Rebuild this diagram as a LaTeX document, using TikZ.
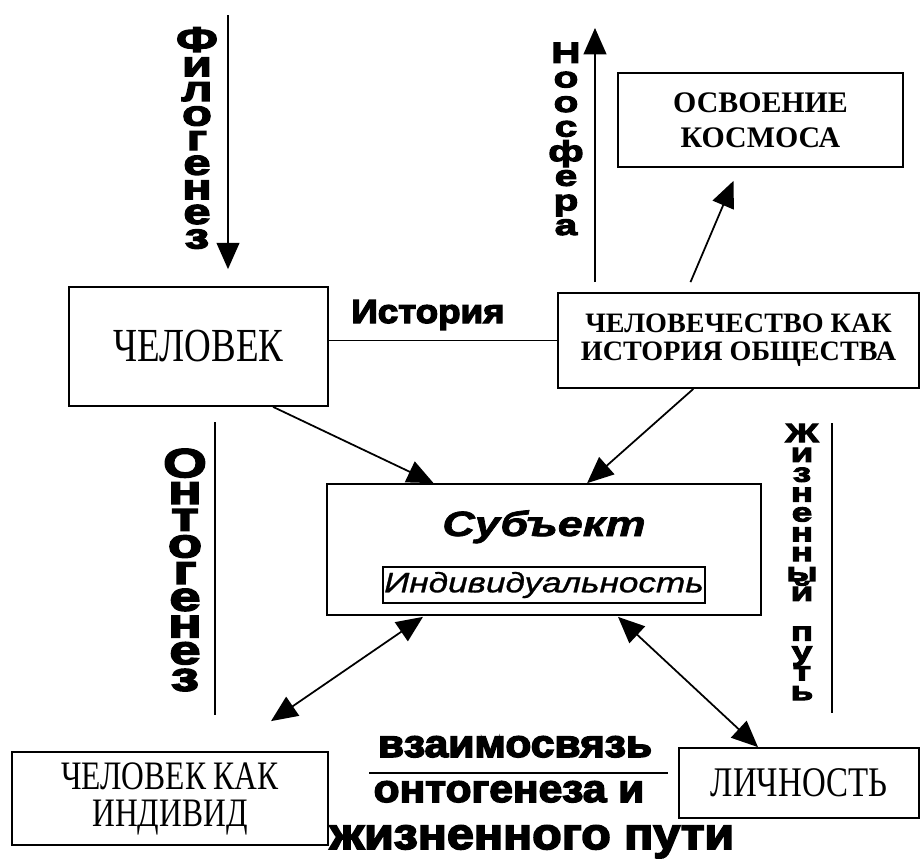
\documentclass[tikz,border=0pt]{standalone}
\usepackage{fontspec}
\setmainfont{Liberation Serif}
\newfontfamily\stackfont[FakeStretch=1.4,FakeBold=4]{Liberation Sans Bold}
\newfontfamily\heavyfont[FakeStretch=1.1,FakeBold=4]{Liberation Sans Bold}
\newfontfamily\subjfont[FakeStretch=1.28,FakeBold=2]{Liberation Sans Bold Italic}
\newfontfamily\indfont[FakeStretch=1.25,FakeBold=1]{Liberation Sans Italic}
\newfontfamily\narrowserif[FakeStretch=0.78]{Liberation Serif}
\usepackage{tikz}
\usetikzlibrary{arrows.meta, positioning, calc}
\tikzset{
  block/.style={rectangle, draw, line width=1pt, inner sep=0pt,
    align=center},
  vstack/.style={align=center, inner sep=0pt},
  arrow/.style={-{Triangle[length=15pt,width=13pt]}, line width=1pt},
  dblarrow/.style={{Triangle[length=15pt,width=13pt]}-{Triangle[length=15pt,width=13pt]}, line width=1pt},
  line/.style={line width=1pt}
}
\newcommand{\tight}{\lineskiplimit=-\maxdimen\lineskip=0pt}

\begin{document}
\begin{tikzpicture}[x=0.02cm, y=-0.02cm]
  \useasboundingbox (0,0) rectangle (921,862);

  % boxes
  \node[block, minimum width=5.18cm, minimum height=2.38cm,
    font=\narrowserif\fontsize{27}{28}\selectfont] (chel) at (198.5,346.5) {ЧЕЛОВЕК};
  \node[block, minimum width=7.22cm, minimum height=1.9cm,
    font=\bfseries\fontsize{16}{16}\selectfont] (human) at (738.5,340.5)
    {ЧЕЛОВЕЧЕСТВО КАК\\ИСТОРИЯ ОБЩЕСТВА};
  \node[block, minimum width=5.7cm, minimum height=1.88cm,
    font=\bfseries\fontsize{17}{20}\selectfont] (cosmos) at (760.5,120)
    {ОСВОЕНИЕ\\КОСМОСА};
  \node[block, minimum width=8.68cm, minimum height=2.62cm] (subj) at (544,549.5) {};
  \node[font=\subjfont\fontsize{20}{20}\selectfont, anchor=base] (subjt) at (544,536) {Субъект};
  \node[block, line width=0.7pt, minimum width=6.44cm, minimum height=0.72cm,
    font=\indfont\fontsize{16}{16}\selectfont] (indt) at (544,585) {Индивидуальность};
  \node[block, minimum width=6.32cm, minimum height=1.86cm,
    font=\narrowserif\fontsize{23}{21}\selectfont] (indiv) at (170,798.5)
    {ЧЕЛОВЕК КАК\\ИНДИВИД};
  \node[block, minimum width=4.8cm, minimum height=1.4cm,
    font=\narrowserif\fontsize{24}{24}\selectfont] (lich) at (799,783) {ЛИЧНОСТЬ};

  % vertical words
  \node[vstack, font=\stackfont\fontsize{20}{14}\selectfont\tight] (phylo) at (197,138)
    {Ф\\и\\л\\о\\г\\е\\н\\е\\з};
  \node[vstack, font=\stackfont\fontsize{16.5}{14}\selectfont\tight] (noos) at (566,139)
    {Н\\о\\о\\с\\ф\\е\\р\\а};
  \node[vstack, font=\stackfont\fontsize{23}{15.2}\selectfont\tight] (onto) at (185,570)
    {О\\н\\т\\о\\г\\е\\н\\е\\з};
  \node[vstack, font=\stackfont\fontsize{15}{11.3}\selectfont\tight] (life) at (802,562)
    {Ж\\и\\з\\н\\е\\н\\н\\ы\\й\\[11.3pt]п\\у\\т\\ь};

  % horizontal words
  \node[font=\heavyfont\fontsize{19}{19}\selectfont, anchor=base] (hist) at (428,323) {История};
  \node[font=\heavyfont\fontsize{22}{22}\selectfont, anchor=base] (vz) at (515,757) {взаимосвязь};
  \node[font=\heavyfont\fontsize{22}{22}\selectfont, anchor=base] (ont) at (509,802) {онтогенеза и};
  \node[font=\heavyfont\fontsize{25}{25}\selectfont, anchor=base] (jp) at (532,849) {жизненного пути};
  \draw[line] (369,773) -- (668,773);

  % free ends
  \coordinate (phtop) at (228,15);
  \coordinate (noostop) at (595,28);

  % connectors
  \draw[arrow] (phtop) -- ($(chel.north)+(29.5,-17)$);
  \draw[arrow] ($(human.north)+(-143.5,-10)$) -- (noostop);
  \draw[arrow] ($(human.north)+(-48,-10)$) -- ($(cosmos.south)+(-27,13)$);
  \draw[line] (human.west -| chel.east) -- (human.west);
  \draw[arrow] (chel.-39) -- (subj.149);
  \draw[arrow] (human.-133) -- (subj.57);
  \draw[dblarrow] ($(subj.south)+(-121,1)$) -- ($(indiv.north)+(101,-30)$);
  \draw[dblarrow] ($(subj.south)+(74,1)$) -- ($(lich.north)+(-41,0)$);

  % side lines
  \draw[line] (215,422) -- (215,715);
  \draw[line] (832,423) -- (832,713);
\end{tikzpicture}
\end{document}
